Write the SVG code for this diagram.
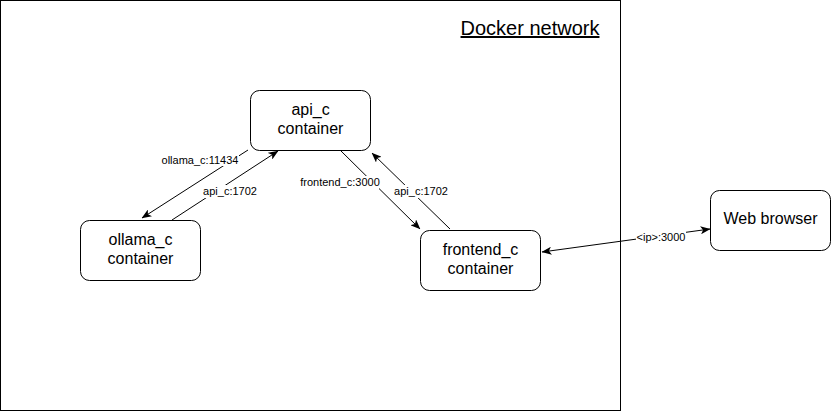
<svg xmlns="http://www.w3.org/2000/svg" width="831" height="411" viewBox="0 0 831 411">
<style>
.node{fill:#fff;stroke:#000;stroke-width:1}
.nt{font-family:"Liberation Sans",Arial,sans-serif;font-size:16px;fill:#000;text-anchor:middle}
.edge{fill:none;stroke:#000;stroke-width:1}
.lbg{fill:#fff;stroke:none}
.lt{font-family:"Liberation Sans",Arial,sans-serif;font-size:11px;fill:#000;text-anchor:middle}
</style>
<defs>
<marker id="arr" viewBox="0 0 10 8" markerWidth="10" markerHeight="8" refX="9.5" refY="4" orient="auto-start-reverse" markerUnits="userSpaceOnUse">
<path d="M0,0 L10,4 L0,8 L2.5,4 z" fill="#000"/>
</marker>
</defs>
<rect width="831" height="411" fill="#fff"/>
<g id="docker-network">
<rect x="0.5" y="0.5" width="620" height="410" fill="none" stroke="#000"/>
<text x="530" y="35" font-family="'Liberation Sans',Arial,sans-serif" font-size="20" text-anchor="middle" text-decoration="underline" fill="#000">Docker network</text>
</g>
<g id="connectors">
<path class="edge" d="M248,150 L142,218" marker-end="url(#arr)"/>
<path class="edge" d="M172,220 L278,151" marker-end="url(#arr)"/>
<path class="edge" d="M340,150 L420,229" marker-end="url(#arr)"/>
<path class="edge" d="M450,229 L372,153" marker-end="url(#arr)"/>
<path class="edge" d="M542,252 L710,229" marker-start="url(#arr)" marker-end="url(#arr)"/>
<rect class="lbg" x="161" y="153" width="78" height="13"/>
<text class="lt" x="200" y="164">ollama_c:11434</text>
<rect class="lbg" x="203" y="185" width="54" height="13"/>
<text class="lt" x="230" y="195">api_c:1702</text>
<rect class="lbg" x="301" y="176" width="78" height="13"/>
<text class="lt" x="340" y="186">frontend_c:3000</text>
<rect class="lbg" x="394" y="185" width="54" height="13"/>
<text class="lt" x="421" y="195">api_c:1702</text>
<rect class="lbg" x="636" y="231" width="50" height="12"/>
<text class="lt" x="661" y="241">&lt;ip&gt;:3000</text>
</g>
<g id="api_c">
<rect class="node" x="250.5" y="90.5" width="120" height="60" rx="9"/>
<text class="nt" x="310.5" y="114.5">api_c</text>
<text class="nt" x="310.5" y="134">container</text>
</g>
<g id="ollama_c">
<rect class="node" x="80.5" y="220.5" width="120" height="60" rx="9"/>
<text class="nt" x="140.5" y="244.5">ollama_c</text>
<text class="nt" x="140.5" y="264">container</text>
</g>
<g id="frontend_c">
<rect class="node" x="420.5" y="230.5" width="120" height="60" rx="9"/>
<text class="nt" x="480.5" y="254.5">frontend_c</text>
<text class="nt" x="480.5" y="274">container</text>
</g>
<g id="web_browser">
<rect class="node" x="710.5" y="190.5" width="120" height="60" rx="9"/>
<text class="nt" x="770.5" y="224">Web browser</text>
</g>
</svg>
